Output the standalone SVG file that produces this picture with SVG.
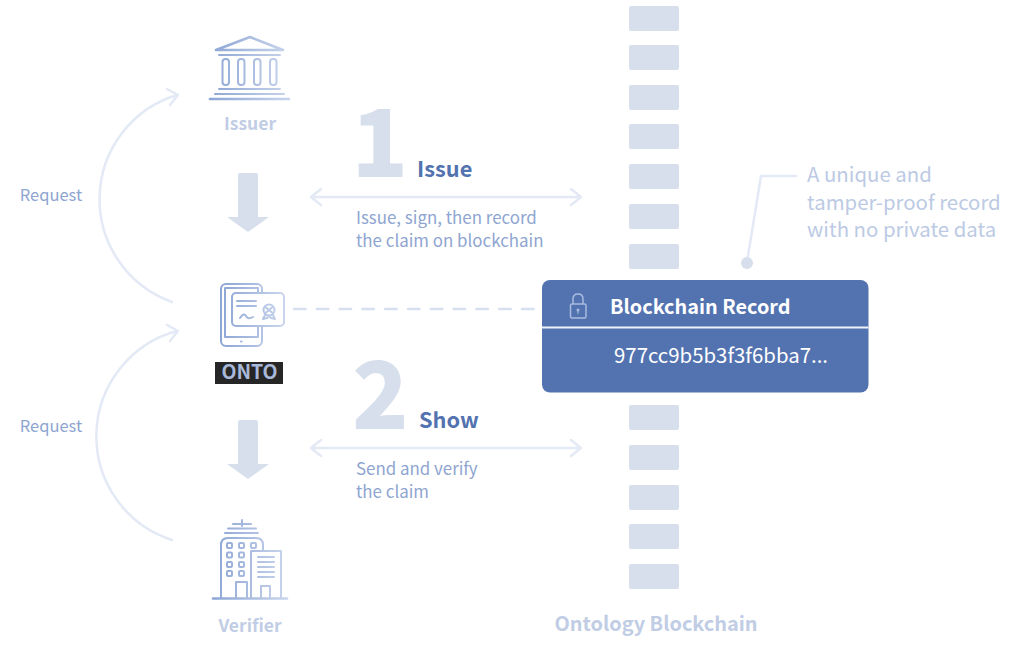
<svg xmlns="http://www.w3.org/2000/svg" width="1010" height="648" viewBox="0 0 1010 648">
<defs>
<linearGradient id="gi" gradientUnits="userSpaceOnUse" x1="209" y1="0" x2="290" y2="0"><stop offset="0" stop-color="#8ca5d5"/><stop offset="1" stop-color="#c9d5ec"/></linearGradient>
<linearGradient id="go" gradientUnits="userSpaceOnUse" x1="221" y1="0" x2="284" y2="0"><stop offset="0" stop-color="#8ca5d5"/><stop offset="1" stop-color="#c9d5ec"/></linearGradient>
<linearGradient id="gv" gradientUnits="userSpaceOnUse" x1="213" y1="0" x2="287" y2="0"><stop offset="0" stop-color="#8ca5d5"/><stop offset="1" stop-color="#c9d5ec"/></linearGradient>
</defs>
<style>
text{font-family:"Noto Sans CJK SC","Noto Sans",sans-serif}
.blk{fill:#d7dfec}
.conn{fill:none;stroke:#e3e9f5;stroke-width:2.5;stroke-linecap:round;stroke-linejoin:round}
.ico{fill:none;stroke-width:2;stroke-linecap:round;stroke-linejoin:round}
.ico2{fill:none;stroke-width:2.6;stroke-linecap:round;stroke-linejoin:round}
#issuer path,#issuer rect{stroke:url(#gi)}
#onto path,#onto rect{stroke:url(#go)}
#verifier path,#verifier rect{stroke:url(#gv)}
.lbl{font-size:16.5px;fill:#8ea5d1}
.sub{font-size:16.9px;fill:#8ea5d1}
.nm{font-size:17.5px;font-weight:700;fill:#c0cde5}
.num{font-size:93px;font-weight:900;fill:#d7dfec}
.hd{font-size:21.8px;font-weight:700;fill:#5373b0}
.note{font-size:20.4px;fill:#bccae4}
.dn{fill:#d7dfec}
</style>
<g id="chain">
<rect class="blk" x="629" y="6" width="50" height="25" rx="2"/>
<rect class="blk" x="629" y="45" width="50" height="25" rx="2"/>
<rect class="blk" x="629" y="85" width="50" height="25" rx="2"/>
<rect class="blk" x="629" y="124" width="50" height="25" rx="2"/>
<rect class="blk" x="629" y="164" width="50" height="25" rx="2"/>
<rect class="blk" x="629" y="204" width="50" height="25" rx="2"/>
<rect class="blk" x="629" y="244" width="50" height="25" rx="2"/>
<rect class="blk" x="629" y="405" width="50" height="25" rx="2"/>
<rect class="blk" x="629" y="445" width="50" height="25" rx="2"/>
<rect class="blk" x="629" y="485" width="50" height="25" rx="2"/>
<rect class="blk" x="629" y="524" width="50" height="25" rx="2"/>
<rect class="blk" x="629" y="564" width="50" height="25" rx="2"/>
<text x="656" y="631" text-anchor="middle" style="font-size:19.900px;font-weight:700;fill:#c0cde5">Ontology Blockchain</text>
</g>
<g id="connectors">
<path class="conn" d="M172 302A109 109 0 0 1 177 95"/>
<path class="conn" d="M167 89L178 95L170 105"/>
<path class="conn" d="M172 540A109 109 0 0 1 177 331"/>
<path class="conn" d="M167 325L178 331L170 341"/>
<path class="conn" d="M312 197H580M321 189L311 197L321 205M571 189L581 197L571 205"/>
<path class="conn" d="M312 448H580M321 440L311 448L321 456M571 440L581 448L571 456"/>
<path d="M294 309H540" fill="none" stroke="#d7e0f0" stroke-width="2.500" stroke-linecap="round" stroke-dasharray="11.500 11.300"/>
<path class="conn" d="M747 262L761 176H796"/>
<circle cx="747" cy="263" r="6" fill="#d7dfec"/>
<path class="dn" d="M238 175Q238 173 240 173H256Q258 173 258 175V217H269L248 232L227 217H238Z"/>
<path class="dn" d="M238 422Q238 420 240 420H256Q258 420 258 422V464H269L248 479L227 464H238Z"/>
</g>
<g id="issuer">
<path class="ico2" d="M216 50L250 37L283 50Z"/>
<path class="ico" d="M219 55H280"/>
<rect class="ico" x="222.500" y="59" width="6.500" height="26" rx="3"/>
<rect class="ico" x="238" y="59" width="6.500" height="26" rx="3"/>
<rect class="ico" x="254" y="59" width="6.500" height="26" rx="3"/>
<rect class="ico" x="270" y="59" width="6.500" height="26" rx="3"/>
<path class="ico" d="M219 89H280M215 94H284"/>
<path class="ico2" d="M210 99H289"/>
<text class="nm" x="250" y="130" text-anchor="middle">Issuer</text>
</g>
<g id="onto">
<rect class="ico" x="221" y="284" width="41" height="62" rx="5"/>
<path class="ico" d="M225 288H258V337H225Z"/>
<rect class="ico" x="232" y="293" width="52" height="33" rx="4" style="fill:#fff"/>
<path class="ico" d="M237 301H256M237 306H256M240 318Q244 312 246 316T253 317"/>
<path class="ico" d="M263.500 310a5.500 5.500 0 1 0 11 0a5.500 5.500 0 1 0-11 0M266 307.500L272 312.500M272 307.500L266 312.500M265 315L263 319L267 318L269 316L271 318L275 319L273 315"/>
<path class="ico" d="M241 341.500h0.500"/>
<rect x="215" y="362" width="68" height="22" style="fill:#262626;stroke:none"/>
<text x="249.500" y="379" text-anchor="middle" style="font-size:19.500px;font-weight:700;fill:#a9b9d9">ONTO</text>
</g>
<g id="verifier">
<path class="ico" d="M242 520V526M233 524H251M228 528.500H256M225 533H258"/>
<path class="ico" d="M221 597V545Q221 538 228 538H256Q263 538 263 545V551"/>
<path class="ico" d="M251 597V551H281V597"/>
<rect class="ico" x="227" y="543" width="5" height="5" rx="1"/><rect class="ico" x="239" y="543" width="5" height="5" rx="1"/><rect class="ico" x="251" y="543" width="5" height="5" rx="1"/>
<rect class="ico" x="227" y="552.500" width="5" height="5" rx="1"/><rect class="ico" x="239" y="552.500" width="5" height="5" rx="1"/>
<rect class="ico" x="227" y="562" width="5" height="5" rx="1"/><rect class="ico" x="239" y="562" width="5" height="5" rx="1"/>
<rect class="ico" x="227" y="571" width="5" height="5" rx="1"/><rect class="ico" x="239" y="571" width="5" height="5" rx="1"/>
<path class="ico" d="M258 557H274M258 562H274M258 567H274M258 572H274M258 577H274"/>
<path class="ico" d="M236 597V582H247V597M261 597V586H270V597"/>
<path class="ico2" d="M213 598.500H287"/>
<text class="nm" x="250" y="631.500" text-anchor="middle">Verifier</text>
</g>
<g id="request-labels">
<text class="lbl" x="51" y="201" text-anchor="middle">Request</text>
<text class="lbl" x="51" y="432" text-anchor="middle">Request</text>
</g>
<g id="step1">
<text class="num" x="351.500" y="177">1</text>
<text class="hd" x="417" y="177">Issue</text>
<text class="sub" x="356" y="223.500">Issue, sign, then record</text>
<text class="sub" x="356" y="246.500">the claim on blockchain</text>
</g>
<g id="step2">
<text class="num" x="352" y="428.500">2</text>
<text class="hd" x="419" y="428">Show</text>
<text class="sub" x="356" y="475">Send and verify</text>
<text class="sub" x="356" y="498">the claim</text>
</g>
<g id="note">
<text class="note" x="807" y="182">A unique and</text>
<text class="note" x="807" y="210">tamper-proof record</text>
<text class="note" x="807" y="237">with no private data</text>
</g>
<g id="record">
<rect x="542" y="280" width="326.500" height="112.500" rx="8" fill="#5373b0"/>
<path d="M542 327.500H868.500" stroke="#f0f3f9" stroke-width="1.800"/>
<rect x="570.500" y="304" width="15.500" height="14" rx="1.500" fill="none" stroke="#a9bcdf" stroke-width="1.500"/>
<path d="M573 304V299Q573 294 578 294Q583 294 583 299V304" fill="none" stroke="#a9bcdf" stroke-width="1.500"/>
<circle cx="578" cy="310" r="1.500" fill="#a9bcdf"/>
<path d="M578 310V314" stroke="#a9bcdf" stroke-width="1"/>
<text x="610" y="314" style="font-size:19.850px;font-weight:700;fill:#fff">Blockchain Record</text>
<text x="614" y="363" style="font-size:20.400px;fill:#fff">977cc9b5b3f3f6bba7...</text>
</g>
</svg>
